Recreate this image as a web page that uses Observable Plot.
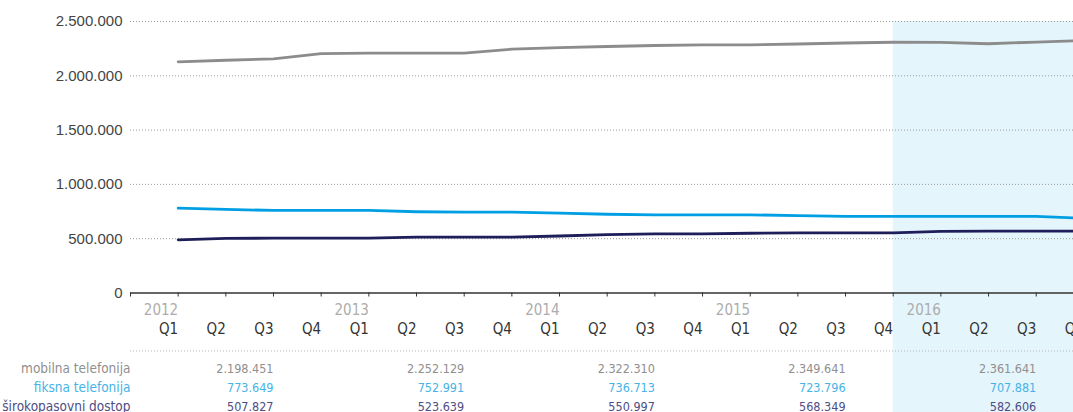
<!DOCTYPE html>
<html>
<head>
<meta charset="utf-8">
<script src="https://cdn.jsdelivr.net/npm/d3@7"></script>
<script src="https://cdn.jsdelivr.net/npm/@observablehq/plot@0.6"></script>
<style>
  html, body { margin: 0; padding: 0; background: #fff; overflow: hidden; }
  #chart { width: 1073px; height: 412px; overflow: hidden; }
  #chart svg { max-width: none !important; width: 1120px !important; height: 412px !important; }
</style>
</head>
<body>
<div id="chart"></div>
<script>
// ---- data ----
const quarters = ["Q1","Q2","Q3","Q4","Q1","Q2","Q3","Q4","Q1","Q2","Q3","Q4","Q1","Q2","Q3","Q4","Q1","Q2","Q3","Q4"];
const years = ["2012","2013","2014","2015","2016"];
const mobilna = [2129000, 2143000, 2156000, 2205000, 2208000, 2208000, 2208000, 2245000, 2260000, 2270000, 2279000, 2285000, 2285000, 2293000, 2302000, 2309000, 2307000, 2295000, 2311000, 2325000];
const fiksna  = [781000, 770000, 760000, 760000, 760000, 748000, 744000, 744000, 735000, 725000, 720000, 720000, 720000, 712000, 705000, 705000, 705000, 705000, 705000, 688000];
const siroko  = [490000, 503000, 505000, 505000, 505000, 514000, 514000, 515000, 525000, 537000, 545000, 545000, 550000, 553000, 553000, 553000, 568000, 569000, 569000, 569000];
const seriesNames = ["mobilna telefonija", "fiksna telefonija", "širokopasovni dostop"];
const tableMobilna = [2198451, 2252129, 2322310, 2349641, 2361641];
const tableFiksna  = [773649, 752991, 736713, 723796, 707881];
const tableSiroko  = [507827, 523639, 550997, 568349, 582606];
const yTicks = [0, 500000, 1000000, 1500000, 2000000, 2500000];
const highlightStart = 15; // Q4 2015 index

// ---- helpers ----
const fmt = d => d3.format(",")(d).replace(/,/g, ".");
const mk = vals => vals.map((v, i) => ({i, v}));
const xLabelFont = "'DejaVu Sans Condensed', 'DejaVu Sans', sans-serif";

const colors = {mob: "#8c8c8c", fik: "#009fe3", sir: "#1e1e5a"};
const tableColors = ["#8f8f8f", "#45b3e6", "#4d4d85"];
const tableVals = [tableMobilna, tableFiksna, tableSiroko];
const rowDy = [80, 99, 118];

const W = 1120;
const xEnd = 1083.4;

const marks = [
  Plot.rect([{a: highlightStart, b: quarters.length - 1}], {
    x1: "a", x2: "b", fill: "#e5f5fc", insetRight: -40, insetBottom: -122
  }),
  Plot.gridY(yTicks.slice(1), {stroke: "#9a9a9a", strokeOpacity: 1, strokeDasharray: "1,2"}),
  Plot.axisY({ticks: yTicks, tickSize: 0, tickPadding: 8, tickFormat: fmt, label: null,
    fontSize: 15, fill: "#444", fontFamily: "'Liberation Sans', Arial, sans-serif"}),
  Plot.axisX({ticks: d3.range(-1, quarters.length), tickSize: 4, tickFormat: () => "", label: null, stroke: "#333"}),
  Plot.ruleY([0], {stroke: "#333", strokeWidth: 1.6}),
  Plot.text(years, {x: (d, i) => i * 4, text: d => d, frameAnchor: "bottom", dy: 22, textAnchor: "end",
    fill: "#adadad", fontSize: 15, fontFamily: xLabelFont}),
  Plot.text(quarters, {x: (d, i) => i, text: d => d, frameAnchor: "bottom", dy: 41, textAnchor: "end",
    fill: "#333", fontSize: 15, fontFamily: xLabelFont}),
  Plot.ruleY([0], {dy: 58, stroke: "#b5b5b5", strokeDasharray: "1,2"}),
  Plot.line(mk(mobilna), {x: "i", y: "v", stroke: colors.mob, strokeWidth: 2.8}),
  Plot.line(mk(fiksna), {x: "i", y: "v", stroke: colors.fik, strokeWidth: 2.8}),
  Plot.line(mk(siroko), {x: "i", y: "v", stroke: colors.sir, strokeWidth: 2.8}),
];

seriesNames.forEach((name, r) => {
  marks.push(Plot.text([name], {text: d => d, frameAnchor: "bottom-left", dy: rowDy[r], textAnchor: "end",
    fill: tableColors[r], fontSize: 13.5, fontFamily: xLabelFont, letterSpacing: 0.5}));
  marks.push(Plot.text(tableVals[r], {x: (d, i) => i * 4 + 2, text: d => fmt(d), frameAnchor: "bottom", dy: rowDy[r],
    textAnchor: "end", fill: tableColors[r], fontSize: 12.5, fontFamily: xLabelFont}));
});

const chart = Plot.plot({
  width: W,
  height: 412,
  marginLeft: 130,
  marginRight: W - xEnd,
  marginTop: 21,
  marginBottom: 119.5,
  style: {background: "transparent", fontFamily: "'Liberation Sans', Arial, sans-serif", overflow: "visible", maxWidth: "none"},
  x: {type: "linear", domain: [-1, quarters.length - 1], axis: null},
  y: {domain: [0, 2500000], axis: null},
  marks
});
document.getElementById("chart").appendChild(chart);
</script>
</body>
</html>
